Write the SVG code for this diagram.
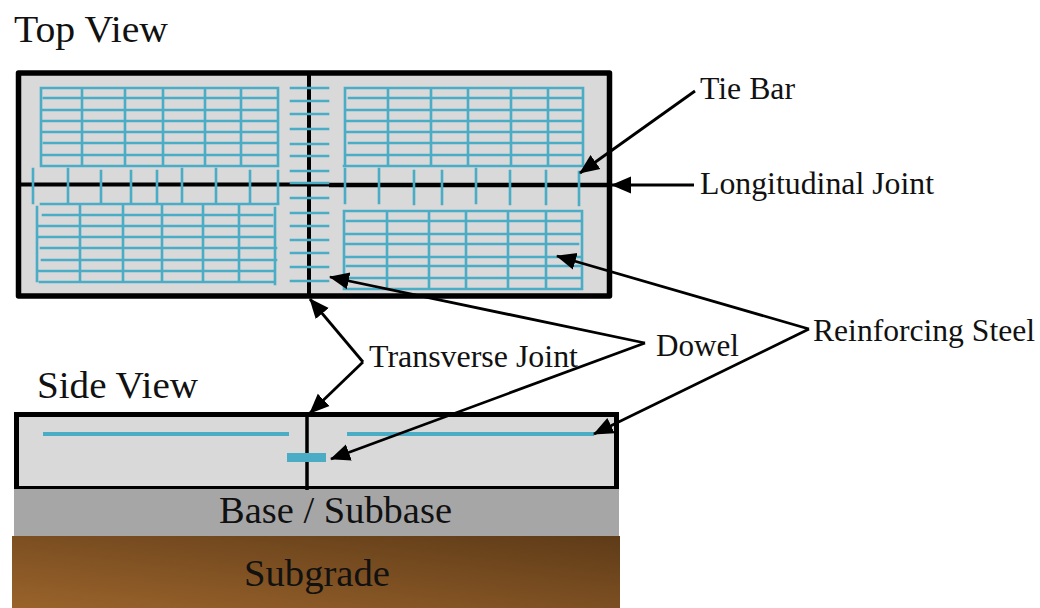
<svg xmlns="http://www.w3.org/2000/svg" width="1040" height="608" viewBox="0 0 1040 608">
<style>
.t{font-family:"Liberation Serif","Times New Roman",serif;fill:#111}
.m{stroke:#4bacc6;stroke-width:2.600;fill:none;stroke-linecap:square}
.j{stroke:#000;fill:none}
.a{stroke:#000;stroke-width:2.800;fill:none}
</style>
<defs>
<marker id="ah" markerUnits="userSpaceOnUse" markerWidth="22" markerHeight="20" refX="19" refY="10" orient="auto"><path d="M0 1.500L20 10L0 18.500Z" fill="#000"/></marker>
<linearGradient id="sg" x1="0" y1="1" x2="1" y2="0"><stop offset="0" stop-color="#9a632b"/><stop offset="1" stop-color="#5e3b18"/></linearGradient>
</defs>
<g id="top-view-slab">
<rect x="18.500" y="73" width="591" height="223" fill="#d9d9d9" stroke="#000" stroke-width="5.500" stroke-linejoin="round"/>
</g>
<g id="top-grid-1">
<path class="m" d="M41 88H278M44 98H278M41 110H276M41 121H276M41 132H278M44 143H278M41 155H276M41 166H278M41 88V165M82 88V166M125 88V166M163 88V165M205 88V164M241 88V165M278 88V166"/>
</g>
<g id="top-grid-2">
<path class="m" d="M41 204H278M43 215H272M38 226H272M38 237H275M41 248H276M42 260H276M37 271H274M40 282H274M37 207V281M80 205V282M123 205V281M162 205V281M203 205V280M239 205V281M275 208V284"/>
</g>
<g id="top-grid-3">
<path class="m" d="M345 88H583M349 98H583M345 110H581M345 121H581M345 132H583M349 143H583M345 155H581M344 166H581M345 88V165M388 88V166M431 88V166M468 88V165M511 88V164M548 88V165M583 88V166"/>
</g>
<g id="top-grid-4">
<path class="m" d="M344 211H582M347 221H580M344 234H580M344 244H578M344 257H582M347 266H580M344 278H580M344 289H580M344 211V287M387 211V289M429 211V288M466 211V288M508 211V287M546 211V289M582 211V289"/>
</g>
<g id="joints">
<path class="j" stroke-width="4" d="M18 184.500H329"/>
<path class="j" stroke-width="4.500" d="M329 185H609"/>
<path class="j" stroke-width="4" d="M309 73V296"/>
</g>
<g id="tie-bars">
<path class="m" d="M33 169V203M68 169V203M101 171V203M131 171V203M157 171V203M182 169V203M216 169V203M250 171V203M278 171V203M345 169V203M379 169V203M414 171V204M442 171V204M476 169V203M510 171V204M546 171V204M579 172V205"/>
</g>
<g id="dowels">
<path class="m" d="M291 88H328M291 101H328M291 114H328M291 129H328M291 144H328M291 156H328M291 171H328M291 183H328M291 198H328M291 213H328M291 226H328M291 240H328M291 253H328M291 267H328M291 281H328"/>
</g>
<g id="subgrade">
<rect x="12" y="536" width="608" height="72" fill="url(#sg)"/>
<text class="t" x="317" y="586" font-size="37" text-anchor="middle" textLength="146" lengthAdjust="spacingAndGlyphs">Subgrade</text>
</g>
<g id="base">
<rect x="14" y="488" width="605" height="48" fill="#a6a6a6"/>
<text class="t" x="335.500" y="523" font-size="37" text-anchor="middle" textLength="233" lengthAdjust="spacingAndGlyphs">Base / Subbase</text>
</g>
<g id="side-view-slab">
<path d="M16.500 414.500H616.500V487.500H16.500Z" fill="#d9d9d9"/>
<path class="j" stroke-width="5" d="M16.500 488V414.500H616.500V488"/>
<path class="j" stroke-width="3" d="M14 487.500H619"/>
<path class="j" stroke-width="3.500" d="M307 414V490"/>
<rect x="43" y="432" width="246" height="4" fill="#4bacc6"/>
<rect x="347" y="432" width="247" height="4" fill="#4bacc6"/>
<rect x="287" y="453" width="39" height="9" fill="#4bacc6"/>
</g>
<g id="connectors">
<path class="a" marker-end="url(#ah)" d="M695 91L580 173"/>
<path class="a" marker-end="url(#ah)" d="M694 185H612"/>
<path class="a" marker-end="url(#ah)" d="M363 362L310 299"/>
<path class="a" marker-end="url(#ah)" d="M363 362L310 413"/>
<path class="a" marker-end="url(#ah)" d="M645 343L330 277"/>
<path class="a" marker-end="url(#ah)" d="M645 343L331 459"/>
<path class="a" marker-end="url(#ah)" d="M809 329L557 256"/>
<path class="a" marker-end="url(#ah)" d="M809 329L594 434"/>
</g>
<g id="labels">
<text class="t" x="14" y="42" font-size="37" textLength="154" lengthAdjust="spacingAndGlyphs">Top View</text>
<text class="t" x="37" y="398" font-size="37" textLength="161" lengthAdjust="spacingAndGlyphs">Side View</text>
<text class="t" x="700" y="99" font-size="31" textLength="95" lengthAdjust="spacingAndGlyphs">Tie Bar</text>
<text class="t" x="700" y="194" font-size="31" textLength="234" lengthAdjust="spacingAndGlyphs">Longitudinal Joint</text>
<text class="t" x="813" y="341" font-size="31" textLength="222" lengthAdjust="spacingAndGlyphs">Reinforcing Steel</text>
<text class="t" x="656" y="356" font-size="31" textLength="83" lengthAdjust="spacingAndGlyphs">Dowel</text>
<text class="t" x="369" y="367" font-size="31" textLength="209" lengthAdjust="spacingAndGlyphs">Transverse Joint</text>
</g>
</svg>
